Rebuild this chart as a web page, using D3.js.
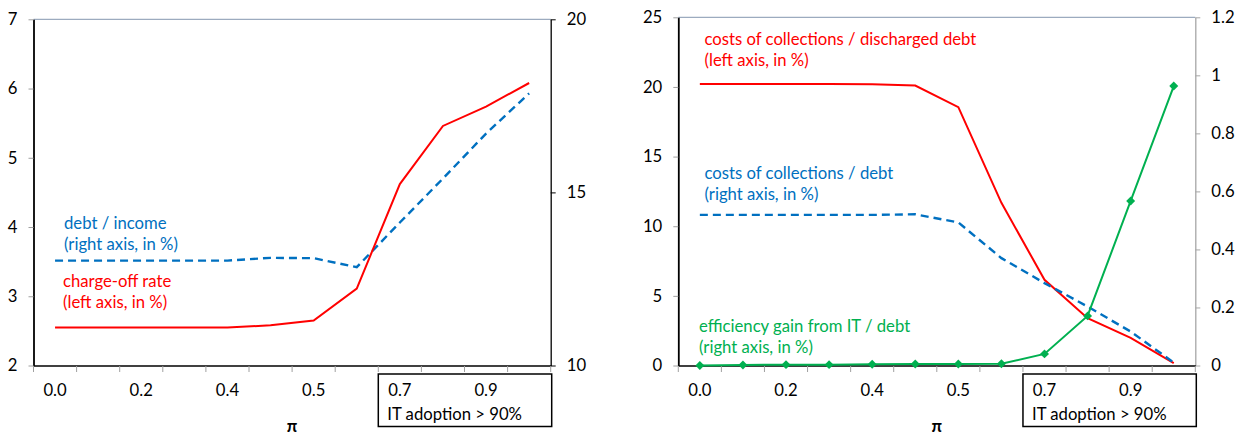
<!DOCTYPE html>
<html>
<head>
<meta charset="utf-8">
<script src="https://cdn.jsdelivr.net/npm/d3@7"></script>
<style>
  body { margin: 0; background: #fff; }
  svg { display: block; font-family: Lato, "Open Sans", sans-serif; }
</style>
</head>
<body>
<svg id="chart" width="1238" height="435"></svg>
<script>
// categories of pi (only every other one is labelled)
const categories = ['0.0', '0.1', '0.2', '0.3', '0.4', '0.45', '0.5', '0.6', '0.7', '0.8', '0.9', '0.95'];
const tickLabels = ['0.0', '', '0.2', '', '0.4', '', '0.5', '', '0.7', '', '0.9', ''];

// left panel
const chargeOffRate = [2.55, 2.55, 2.55, 2.55, 2.55, 2.58, 2.65, 3.11, 4.62, 5.46, 5.74, 6.08];
const debtIncome = [13.03, 13.03, 13.03, 13.03, 13.03, 13.11, 13.1, 12.84, 14.13, 15.4, 16.7, 17.86];
const leftTicksA = [2, 3, 4, 5, 6, 7];
const rightTicksA = [10, 15, 20];

// right panel
const costsDischarged = [20.22, 20.22, 20.22, 20.22, 20.2, 20.1, 18.55, 11.68, 6.15, 3.4, 1.99, 0.17];
const costsDebt = [0.519, 0.519, 0.519, 0.519, 0.519, 0.521, 0.493, 0.37, 0.284, 0.203, 0.117, 0.01];
const efficiencyGain = [0, 0.002, 0.003, 0.003, 0.004, 0.005, 0.005, 0.006, 0.04, 0.171, 0.567, 0.963];
const leftTicksB = [0, 5, 10, 15, 20, 25];
const rightTicksB = [0, 0.2, 0.4, 0.6, 0.8, 1, 1.2];

const RED = '#ff0000', BLUE = '#0070c0', GREEN = '#00b050';
const FS = 16.7;

const svg = d3.select('#chart');

function panel(opts) {
    const g = svg.append('g');
    const x = d3.scaleBand().domain(categories).range([opts.x0, opts.x1]).padding(0);
    const yL = d3.scaleLinear().domain(opts.leftDomain).range([365.5, opts.top]);
    const yR = d3.scaleLinear().domain(opts.rightDomain).range([365.5, opts.top]);
    const cx = c => x(c) + x.bandwidth() / 2;

    // top border
    g.append('line')
        .attr('x1', opts.x0).attr('x2', opts.x1)
        .attr('y1', opts.top).attr('y2', opts.top)
        .attr('stroke', '#8497b0').attr('stroke-width', 1);

    // left axis
    const ax = g.append('g')
        .attr('transform', `translate(${opts.x0},0)`)
        .call(d3.axisLeft(yL).tickValues(opts.leftTicks).tickSize(5).tickSizeOuter(0).tickPadding(11)
            .tickFormat(d3.format('~g')));
    ax.select('.domain').attr('stroke', '#000').attr('stroke-width', 1.8);
    ax.selectAll('.tick line').attr('stroke', '#a0a0a0');

    // right axis
    const ar = g.append('g')
        .attr('transform', `translate(${opts.x1},0)`)
        .call(d3.axisRight(yR).tickValues(opts.rightTicks).tickSize(5).tickSizeOuter(0).tickPadding(11)
            .tickFormat(d3.format('~g')));
    ar.select('.domain').attr('stroke', opts.rightColor).attr('stroke-width', 1.3);
    ar.selectAll('.tick line').attr('stroke', opts.rightColor);

    // bottom axis: labels at category centres, ticks at boundaries
    const ab = g.append('g')
        .attr('transform', 'translate(0,365.5)')
        .call(d3.axisBottom(x).tickSize(0).tickPadding(19).tickSizeOuter(0)
            .tickFormat((d, i) => tickLabels[i]));
    ab.select('.domain').attr('stroke', '#000').attr('stroke-width', 1.5);
    const bounds = categories.map(c => x(c)).concat([x.range()[1]]);
    g.append('g').selectAll('line').data(bounds).join('line')
        .attr('x1', d => d).attr('x2', d => d)
        .attr('y1', 366).attr('y2', 372)
        .attr('stroke', '#a0a0a0');

    g.selectAll('.tick text')
        .attr('font-family', 'Lato, "Open Sans", sans-serif')
        .attr('font-size', FS).attr('fill', '#000');

    // box for IT adoption
    const bx = x('0.7');
    g.append('rect')
        .attr('x', bx).attr('y', 374)
        .attr('width', x.range()[1] - bx + 1).attr('height', 52.5)
        .attr('fill', 'none').attr('stroke', '#000').attr('stroke-width', 1.5);
    g.append('text')
        .attr('x', bx + 9).attr('y', 420)
        .attr('font-size', FS).text('IT adoption > 90%');

    // pi label
    g.append('text')
        .attr('x', (opts.x0 + opts.x1) / 2).attr('y', 432)
        .attr('text-anchor', 'middle').attr('font-weight', 'bold')
        .attr('font-size', FS).text('π');

    // series
    opts.series.forEach(s => {
        const y = s.axis === 'left' ? yL : yR;
        const line = d3.line().x((d, i) => cx(categories[i])).y(d => y(d));
        g.append('path')
            .datum(s.values)
            .attr('d', line)
            .attr('fill', 'none')
            .attr('stroke', s.color)
            .attr('stroke-width', s.dash ? 2.4 : 2)
            .attr('stroke-dasharray', s.dash ? '8,5' : null);
        if (s.markers) {
            g.append('g').selectAll('path').data(s.values).join('path')
                .attr('d', d3.symbol(d3.symbolSquare, 40))
                .attr('transform', (d, i) => `translate(${cx(categories[i])},${y(d)}) rotate(45)`)
                .attr('fill', s.color);
        }
    });

    // annotations
    opts.notes.forEach(n => {
        const t = g.append('text')
            .attr('x', n.x).attr('y', n.y)
            .attr('fill', n.color).attr('font-size', FS);
        n.lines.forEach((l, i) => {
            t.append('tspan').attr('x', n.x).attr('dy', i === 0 ? 0 : 21).text(l);
        });
    });
}

panel({
    x0: 33.5, x1: 550.7, top: 19.3,
    leftDomain: [2, 7], rightDomain: [10, 20],
    leftTicks: leftTicksA, rightTicks: rightTicksA,
    rightColor: '#000',
    series: [
        { values: debtIncome, axis: 'right', color: BLUE, dash: true },
        { values: chargeOffRate, axis: 'left', color: RED }
    ],
    notes: [
        { x: 64, y: 229, color: BLUE, lines: ['debt / income', '(right axis, in %)'] },
        { x: 63, y: 287, color: RED, lines: ['charge-off rate', '(left axis, in %)'] }
    ]
});

panel({
    x0: 678.3, x1: 1195.3, top: 17.3,
    leftDomain: [0, 25], rightDomain: [0, 1.2],
    leftTicks: leftTicksB, rightTicks: rightTicksB,
    rightColor: '#a6a6a6',
    series: [
        { values: costsDischarged, axis: 'left', color: RED },
        { values: costsDebt, axis: 'right', color: BLUE, dash: true },
        { values: efficiencyGain, axis: 'right', color: GREEN, markers: true }
    ],
    notes: [
        { x: 704.5, y: 45, color: RED, lines: ['costs of collections / discharged debt', '(left axis, in %)'] },
        { x: 704.5, y: 179, color: BLUE, lines: ['costs of collections / debt', '(right axis, in %)'] },
        { x: 699, y: 331.5, color: GREEN, lines: ['efficiency gain from IT / debt', '(right axis, in %)'] }
    ]
});
</script>
</body>
</html>
